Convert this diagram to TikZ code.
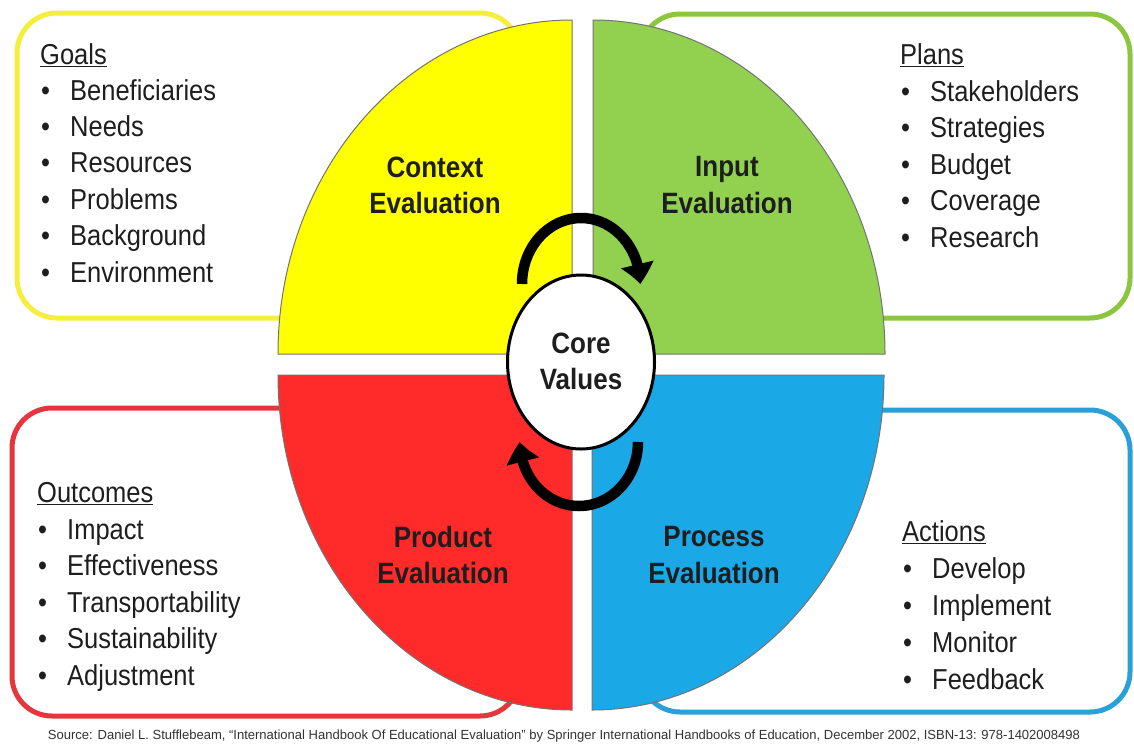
\documentclass[tikz,border=0pt]{standalone}
\usepackage{fontspec}
\setmainfont{Liberation Sans}
\usetikzlibrary{arrows.meta,bending,shapes.geometric}
\definecolor{qyellow}{HTML}{FFFF00}
\definecolor{qgreen}{HTML}{92D050}
\definecolor{qred}{HTML}{FF2A2A}
\definecolor{qblue}{HTML}{1BA8E6}
\definecolor{byellow}{HTML}{F4EF3C}
\definecolor{bgreen}{HTML}{8CC63F}
\definecolor{bred}{HTML}{E5363D}
\definecolor{bblue}{HTML}{2AA0D8}
\definecolor{txt}{HTML}{1E1E1E}
\begin{document}
\begin{tikzpicture}[x=1pt,y=-1pt,
  box/.style={line width=5pt, rounded corners=40pt, fill=white},
  quad/.style={draw=black!55, line width=1pt},
  item/.style={anchor=base west, inner sep=0pt, yscale=1.13, font=\fontsize{25.5}{30}\selectfont, text=txt},
  title/.style={align=center, inner sep=0pt, yscale=1.13, font=\bfseries\fontsize{26}{32}\selectfont, text=txt},
  cyc/.style={line width=10.5pt, -{Triangle[width=32pt,length=20pt,bend]}}
]
\useasboundingbox[fill=white] (0,0) rectangle (1134,747);

% boxes
\draw[box, draw=byellow] (17,13) rectangle (520,318);
\draw[box, draw=bgreen] (640,14) rectangle (1130,318);
\draw[box, draw=bred] (12,408) rectangle (520,716);
\draw[box, draw=bblue] (640,410) rectangle (1130,712);

% quadrants
\draw[quad, fill=qyellow] (572,354) -- (278,354) arc[start angle=180, end angle=270, x radius=294, y radius=334] -- cycle;
\draw[quad, fill=qgreen] (593,354) -- (593,20) arc[start angle=270, end angle=360, x radius=292, y radius=334] -- cycle;
\draw[quad, fill=qblue] (592,375) -- (884,375) arc[start angle=0, end angle=90, x radius=292, y radius=335] -- cycle;
\draw[quad, fill=qred] (572,375) -- (572,710) arc[start angle=90, end angle=180, x radius=294, y radius=335] -- cycle;

% core
\node[draw, ellipse, line width=3pt, fill=white, minimum width=147pt, minimum height=174pt, inner sep=0pt] (core) at (581,362) {};
\node[title] (coretext) at (581,361) {Core\\Values};

% cycle arrows
\coordinate (t1) at (522,284);
\coordinate (b1) at (638,442);
\draw[cyc] (t1) arc[start angle=180, end angle=360, x radius=59, y radius=66];
\draw[cyc] (b1) arc[start angle=0, end angle=180, x radius=59, y radius=64];

% titles
\node[title] (ctx) at (435,185) {Context\\Evaluation};
\node[title] (inp) at (727,185) {Input\\Evaluation};
\node[title] (prod) at (443,555) {Product\\Evaluation};
\node[title] (proc) at (714,555) {Process\\Evaluation};

% lists
\node[item] (goals) at (40,64) {\underline{Goals}};
\foreach \t [count=\i] in {Beneficiaries,Needs,Resources,Problems,Background,Environment}
  \node[item] (g\i) at (41,{100+36.4*(\i-1)}) {\makebox[29pt][l]{•}\t};

\node[item] (plans) at (900,64) {\underline{Plans}};
\foreach \t [count=\i] in {Stakeholders,Strategies,Budget,Coverage,Research}
  \node[item] (p\i) at (901,{101+36.6*(\i-1)}) {\makebox[29pt][l]{•}\t};

\node[item] (outc) at (37,502) {\underline{Outcomes}};
\foreach \t [count=\i] in {Impact,Effectiveness,Transportability,Sustainability,Adjustment}
  \node[item] (o\i) at (38,{539+36.6*(\i-1)}) {\makebox[29pt][l]{•}\t};

\node[item] (act) at (902,541) {\underline{Actions}};
\foreach \t [count=\i] in {Develop,Implement,Monitor,Feedback}
  \node[item] (a\i) at (903,{578+37*(\i-1)}) {\makebox[29pt][l]{•}\t};

% source
\node[inner sep=0pt, text=black!80, font=\fontsize{12}{14}\selectfont, xscale=1.085, yscale=1.1] (src) at (564,736) {Source: Daniel L. Stufflebeam, ``International Handbook Of Educational Evaluation'' by Springer International Handbooks of Education, December 2002, ISBN-13: 978-1402008498};
\end{tikzpicture}
\end{document}
